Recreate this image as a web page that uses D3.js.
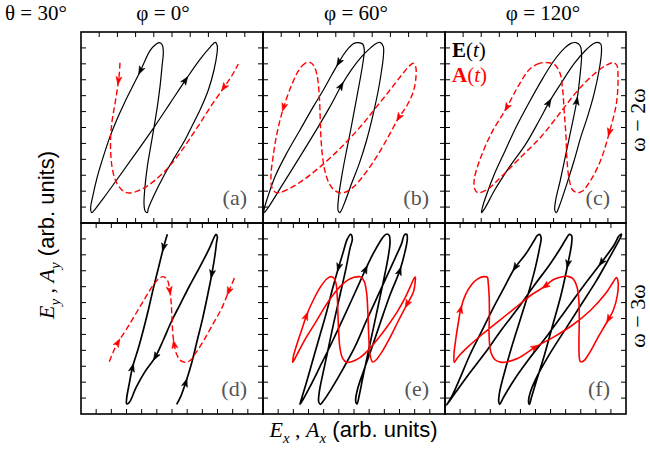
<!DOCTYPE html>
<html>
<head>
<meta charset="utf-8">
<script src="https://cdn.jsdelivr.net/npm/d3@7"></script>
<style>
  body { margin: 0; background: #fff; }
  text { font-family: "Liberation Serif", "DejaVu Serif", serif; }
</style>
</head>
<body>
<svg id="fig" width="650" height="453"></svg>
<script>
// Field E(t) and vector potential A(t) traced over one period, in arb. units
// (x across, y measured down from the top of each panel; panel = 546 x 573 units)
var XSPAN = 546, YSPAN = 573;

var colTitles = ["φ = 0°", "φ = 60°", "φ = 120°"];
var rowTitles = ["ω − 2ω", "ω − 3ω"];
var panelLetters = ["(a)", "(b)", "(c)", "(d)", "(e)", "(f)"];

// ---- omega - 2omega, phi = 0
var E_a = [[235,32],[222,39],[207,56],[192,86],[177,119],[157,159],[132,209],[107,264],[87,314],[67,374],[49,434],[35,494],[29,526],[32,542],
  [42,532],[67,499],[107,444],[157,374],[219,286],[267,214],[315,142],[357,82],[387,46],[403,31],[409,42],
  [408,64],[399,114],[382,174],[357,234],[332,284],[312,324],[282,374],[247,434],[217,494],[202,529],[199,542],
  [192,536],[189,514],[192,464],[199,404],[209,344],[219,286],[229,224],[237,164],[243,104],[247,59],[244,39]];
var E_a_arrows = [[4,1],[20,1]];
var A_a = [[117,92],[115,124],[112,149],[107,184],[100,226],[93,269],[89,314],[89,359],[93,404],[103,444],[119,470],[137,482],
  [159,481],[187,469],[217,449],[247,422],[277,389],[302,356],[327,319],[357,274],[392,219],[427,169],[452,132],[472,96]];
var A_a_arrows = [[2,1],[21,-1]];

// ---- omega - 2omega, phi = 60
var E_b = [[286,32],[273,34],[256,49],[241,69],[226,94],[206,129],[181,174],[151,224],[111,294],[71,364],[36,434],[13,499],[3,534],[3,542],
  [16,526],[61,454],[111,374],[166,284],[201,224],[236,159],[266,112],[296,74],[321,49],[341,34],[351,31],[361,44],
  [361,74],[356,114],[346,174],[331,244],[311,324],[289,394],[266,454],[246,509],[233,539],[229,542],
  [225,534],[227,494],[236,434],[249,364],[263,294],[278,214],[291,144],[301,84],[304,54],[299,36]];
var E_b_arrows = [[4,1],[19,1]];
var A_b = [[141,91],[126,94],[109,112],[86,159],[61,229],[43,299],[31,369],[24,429],[26,464],[36,480],[49,482],
  [81,469],[121,444],[166,409],[211,369],[256,324],[301,274],[341,224],[381,174],[416,129],[439,102],[451,94],
  [458,104],[459,134],[451,179],[431,222],[406,259],[376,314],[341,374],[303,429],[269,467],[243,482],[229,482],
  [211,472],[196,449],[184,409],[177,359],[173,299],[171,239],[168,179],[162,129],[153,102]];
var A_b_arrows = [[4,1],[26,1]];

// ---- omega - 2omega, phi = 120
var E_c = [[395,32],[380,34],[360,49],[330,84],[295,139],[255,209],[215,284],[180,359],[150,424],[125,489],[113,526],[110,542],
  [120,529],[150,474],[195,404],[245,334],[285,264],[315,209],[350,154],[390,94],[425,54],[450,34],[460,31],
  [470,36],[472,59],[465,114],[450,184],[430,254],[410,314],[390,384],[368,454],[348,514],[338,539],[335,542],
  [331,534],[334,504],[348,444],[365,364],[382,284],[398,204],[408,124],[412,69],[408,42]];
var E_c_arrows = [[17,1],[39,1]];
var A_c = [[310,92],[285,94],[255,112],[220,164],[185,229],[140,304],[105,384],[88,444],[90,472],[98,482],
  [125,474],[170,434],[230,374],[290,314],[350,239],[400,176],[450,126],[488,99],[508,92],
  [518,99],[522,134],[517,214],[495,304],[470,384],[440,444],[415,477],[400,482],
  [385,474],[375,444],[368,384],[365,314],[360,244],[355,174],[347,124],[330,97]];
var A_c_arrows = [[4,1],[22,1]];

// ---- omega - 3omega, phi = 0 (traced back and forth)
var E_d = [[259,34],[247,76],[232,136],[217,196],[202,261],[187,321],[172,376],[155,431],[144,486],[137,526],[137,542],[145,538],
  [165,494],[192,446],[222,404],[247,351],[272,294],[299,241],[327,186],[357,131],[385,76],[399,44],[405,34],[409,41],
  [407,56],[402,96],[392,156],[380,216],[365,286],[349,351],[333,416],[315,476],[299,521],[287,544]];
var E_d_arrows = [[1,1],[7,-1],[14,-1],[26,1],[31,-1]];
var A_d = [[85,416],[97,386],[112,356],[135,321],[162,276],[192,226],[217,186],[235,166],[247,161],[259,171],
  [267,206],[271,246],[273,286],[275,326],[279,361],[287,394],[299,413],[315,418],[329,411],[347,386],
  [372,346],[397,301],[422,256],[442,208],[462,161]];
var A_d_arrows = [[2,1],[10,1],[14,-1],[23,-1]];

// ---- omega - 3omega, phi = 60
var E_e = [[263,34],[253,48],[241,86],[226,136],[209,196],[191,266],[171,336],[151,406],[131,476],[116,526],[111,544],
  [121,528],[141,491],[171,431],[203,366],[236,296],[266,231],[291,176],[309,136],[331,91],[351,56],[364,38],[372,33],
  [379,38],[381,61],[373,116],[361,176],[346,246],[331,316],[316,386],[301,456],[289,516],[282,543],
  [278,534],[283,501],[301,446],[326,376],[353,296],[381,216],[411,141],[426,86],[433,48],[431,34],
  [424,36],[416,61],[396,106],[371,161],[341,226],[309,296],[276,371],[241,436],[206,496],[181,534],[172,544],
  [167,536],[169,506],[181,446],[196,376],[213,296],[231,216],[249,136],[261,76],[268,48]];
var E_e_arrows = [[3,1],[18,1],[39,1]];
var A_e = [[291,161],[273,163],[253,172],[231,191],[206,221],[181,259],[156,301],[131,341],[109,381],[95,408],[89,418],
  [91,401],[101,366],[116,321],[131,276],[151,231],[173,191],[191,168],[204,161],[213,166],
  [219,181],[223,226],[225,276],[227,326],[231,376],[239,406],[251,418],[266,416],
  [291,404],[316,381],[346,346],[376,306],[403,266],[428,221],[444,186],[453,166],[457,162],
  [457,171],[451,208],[431,246],[406,294],[381,344],[356,388],[339,411],[329,417],
  [321,396],[318,356],[316,306],[314,256],[311,211],[304,176],[294,162]];
var A_e_arrows = [[14,1],[39,1]];

// ---- omega - 3omega, phi = 120
var E_f = [[5,546],[30,511],[70,456],[120,391],[170,321],[220,256],[270,186],[315,126],[345,81],[365,48],[375,34],
  [382,38],[382,61],[370,126],[350,216],[325,306],[300,396],[275,476],[260,526],[255,544],
  [252,536],[258,506],[280,456],[320,386],[365,316],[410,246],[455,176],[495,106],[520,61],[531,40],[532,33],
  [524,40],[510,66],[470,121],[420,186],[365,261],[310,336],[255,406],[205,476],[175,526],[165,544],
  [162,536],[165,506],[180,446],[200,376],[225,296],[250,216],[272,136],[285,76],[290,44],[285,34],
  [278,38],[270,51],[245,91],[210,136],[180,191],[145,256],[110,326],[75,396],[45,466],[20,521]];
var E_f_arrows = [[13,1],[33,1],[54,1]];
var A_f = [[28,418],[27,395],[33,345],[40,300],[48,256],[62,215],[80,185],[100,167],[118,161],[128,163],
  [130,176],[133,216],[134,276],[133,336],[138,386],[152,411],[170,418],
  [190,416],[220,406],[275,371],[330,341],[385,306],[440,261],[485,211],[508,176],[517,164],
  [522,176],[520,216],[508,261],[492,291],[460,346],[435,391],[418,414],[408,416],
  [405,401],[404,356],[405,296],[404,236],[398,191],[385,166],[370,160],
  [350,162],[325,171],[300,191],[260,216],[210,256],[160,296],[110,336],[70,371],[40,401]];
var A_f_arrows = [[4,1],[19,1],[29,1],[43,1]];

var panels = [
  {E: E_a, Ea: E_a_arrows, Eclosed: true,  A: A_a, Aa: A_a_arrows, Aclosed: false},
  {E: E_b, Ea: E_b_arrows, Eclosed: true,  A: A_b, Aa: A_b_arrows, Aclosed: true},
  {E: E_c, Ea: E_c_arrows, Eclosed: true,  A: A_c, Aa: A_c_arrows, Aclosed: true},
  {E: E_d, Ea: E_d_arrows, Eclosed: false, A: A_d, Aa: A_d_arrows, Aclosed: false},
  {E: E_e, Ea: E_e_arrows, Eclosed: true,  A: A_e, Aa: A_e_arrows, Aclosed: true},
  {E: E_f, Ea: E_f_arrows, Eclosed: true,  A: A_f, Aa: A_f_arrows, Aclosed: true}
];

// layout
var colX = [81, 263, 445, 626],
    rowY = [32, 223, 414],
    tickLen = 5;

var svg = d3.select("#fig");

var drawCurve = function(g, pts, arrows, closed, x, y, color, width, dash) {
  var line = d3.line()
    .x(function(d) { return x(d[0]); })
    .y(function(d) { return y(d[1]); })
    .curve(closed ? d3.curveCatmullRomClosed.alpha(0.5) : d3.curveCatmullRom.alpha(0.5));
  g.append("path")
    .attr("d", line(pts))
    .attr("fill", "none")
    .attr("stroke", color)
    .attr("stroke-width", width)
    .attr("stroke-dasharray", dash)
    .attr("stroke-linejoin", "round");
  var n = pts.length;
  arrows.forEach(function(a) {
    var i = a[0];
    var p = pts[i],
        prev = pts[closed ? (i - 1 + n) % n : Math.max(i - 1, 0)],
        next = pts[closed ? (i + 1) % n : Math.min(i + 1, n - 1)];
    var ang = Math.atan2(y(next[1]) - y(prev[1]), x(next[0]) - x(prev[0])) * 180 / Math.PI;
    if (a[1] < 0) ang += 180;
    g.append("path")
      .attr("d", "M3,0L-5,-3L-3,0L-5,3Z")
      .attr("fill", color)
      .attr("stroke", color)
      .attr("stroke-width", 0.6)
      .attr("transform", "translate(" + x(p[0]) + "," + y(p[1]) + ") rotate(" + ang + ")");
  });
};

panels.forEach(function(p, k) {
  var col = k % 3, row = Math.floor(k / 3);
  var x0 = colX[col], x1 = colX[col + 1], y0 = rowY[row], y1 = rowY[row + 1];
  var x = d3.scaleLinear().domain([0, XSPAN]).range([x0, x1]);
  var y = d3.scaleLinear().domain([0, YSPAN]).range([y0, y1]);

  var clipId = "clip" + k;
  svg.append("clipPath").attr("id", clipId)
    .append("rect").attr("x", x0).attr("y", y0).attr("width", x1 - x0).attr("height", y1 - y0);

  var g = svg.append("g").attr("clip-path", "url(#" + clipId + ")");

  // ticks, inward on all four sides
  var nx = row == 0 ? 10 : 12;
  var xt = d3.range(1, nx).map(function(i) { return i * XSPAN / nx; });
  var yt = d3.range(1, 12).map(function(i) { return i * YSPAN / 12; });
  var tg = svg.append("g").attr("stroke", "#000").attr("stroke-width", 1);
  xt.forEach(function(v) {
    tg.append("line").attr("x1", x(v)).attr("x2", x(v)).attr("y1", y0).attr("y2", y0 + tickLen);
    tg.append("line").attr("x1", x(v)).attr("x2", x(v)).attr("y1", y1).attr("y2", y1 - tickLen);
  });
  yt.forEach(function(v) {
    tg.append("line").attr("y1", y(v)).attr("y2", y(v)).attr("x1", x0).attr("x2", x0 + tickLen);
    tg.append("line").attr("y1", y(v)).attr("y2", y(v)).attr("x1", x1).attr("x2", x1 - tickLen);
  });

  var dashed = row == 0 || col == 0;
  drawCurve(g, p.E, p.Ea, p.Eclosed, x, y, "#000", row == 0 ? 1.2 : 1.7, null);
  drawCurve(g, p.A, p.Aa, p.Aclosed, x, y, "#f00", dashed ? 1.4 : 1.6, dashed ? "6,3" : null);

  svg.append("rect")
    .attr("x", x0).attr("y", y0).attr("width", x1 - x0).attr("height", y1 - y0)
    .attr("fill", "none").attr("stroke", "#000").attr("stroke-width", 1.6);

  svg.append("text")
    .attr("x", x1 - 16).attr("y", y1 - 18)
    .attr("text-anchor", "end")
    .attr("font-size", 22)
    .attr("fill", "#555")
    .text(panelLetters[k]);
});

// titles
svg.append("text").attr("x", 5).attr("y", 20).attr("font-size", 21).text("θ = 30°");
var titleX = [163, 356, 543];
colTitles.forEach(function(t, i) {
  svg.append("text").attr("x", titleX[i]).attr("y", 20)
    .attr("text-anchor", "middle").attr("font-size", 21).text(t);
});

// row labels
var rowLabelPos = [[645, 120], [645, 316]];
rowTitles.forEach(function(t, i) {
  svg.append("text")
    .attr("transform", "translate(" + rowLabelPos[i][0] + "," + rowLabelPos[i][1] + ") rotate(-90)")
    .attr("text-anchor", "middle").attr("font-size", 22).text(t);
});

// legend
var leg1 = svg.append("text").attr("x", 452).attr("y", 57).attr("font-size", 21);
leg1.append("tspan").attr("font-weight", "bold").text("E");
leg1.append("tspan").text("(");
leg1.append("tspan").attr("font-style", "italic").text("t");
leg1.append("tspan").text(")");
var leg2 = svg.append("text").attr("x", 452).attr("y", 82).attr("font-size", 21).attr("fill", "#f00");
leg2.append("tspan").attr("font-weight", "bold").text("A");
leg2.append("tspan").text("(");
leg2.append("tspan").attr("font-style", "italic").text("t");
leg2.append("tspan").text(")");

// axis labels
var axisLabel = function(t, sub) {
  t.append("tspan").attr("font-style", "italic").text("E");
  t.append("tspan").attr("font-style", "italic").attr("font-size", 15).attr("dy", 6).text(sub);
  t.append("tspan").attr("dy", -6).text(" , ");
  t.append("tspan").attr("font-style", "italic").text("A");
  t.append("tspan").attr("font-style", "italic").attr("font-size", 15).attr("dy", 6).text(sub);
  t.append("tspan").attr("dy", -6).style("font-family", "'Liberation Sans', Arial, sans-serif").text("\u00a0(arb. units)");
};
axisLabel(svg.append("text").attr("x", 353.5).attr("y", 437)
  .attr("text-anchor", "middle").attr("font-size", 22), "x");
axisLabel(svg.append("text").attr("transform", "translate(54,235) rotate(-90)")
  .attr("text-anchor", "middle").attr("font-size", 22), "y");
</script>
</body>
</html>
